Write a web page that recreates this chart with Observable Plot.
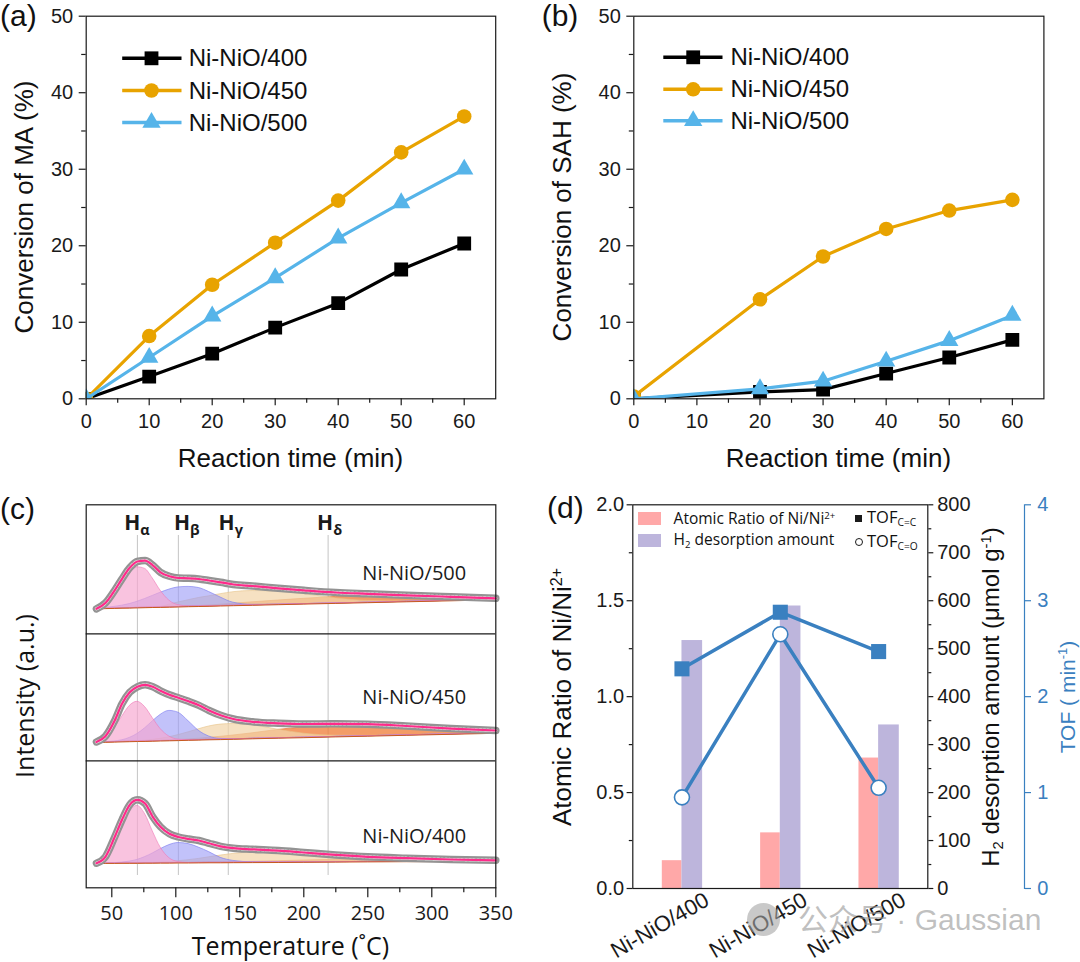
<!DOCTYPE html>
<html><head><meta charset="utf-8">
<script src="https://cdn.jsdelivr.net/npm/d3@7"></script>
<script src="https://cdn.jsdelivr.net/npm/@observablehq/plot@0.6"></script>
<style>
html,body{margin:0;padding:0;background:#fff}
#fig{position:relative;width:1080px;height:962px;overflow:hidden;background:#fff;font-family:"Liberation Sans",Arial,sans-serif;color:#111}
.t{position:absolute;white-space:nowrap;line-height:1}
.t sup,.t sub{font-size:0.62em;line-height:0}
.t sup{vertical-align:0.55em}
.t sub{vertical-align:-0.28em}
.rot{transform:translate(-50%,-50%) rotate(-90deg)}
.ctr{transform:translate(-50%,-50%)}
.mid{transform:translateY(-50%)}
</style></head><body><div id="fig"></div>
<script>
// ================= DATA =================
const samples = ["Ni-NiO/400", "Ni-NiO/450", "Ni-NiO/500"];

// (a) conversion of MA (%)
const timeA = [0, 10, 20, 30, 40, 50, 60];
const maNi400 = [0, 2.9, 5.9, 9.3, 12.5, 16.9, 20.3];
const maNi450 = [0, 8.2, 14.9, 20.4, 25.9, 32.2, 36.9];
const maNi500 = [0, 5.4, 10.8, 15.8, 21.0, 25.6, 30.0];

// (b) conversion of SAH (%)
const timeB = [0, 20, 30, 40, 50, 60];
const sahNi400 = [0, 0.9, 1.2, 3.3, 5.4, 7.7];
const sahNi450 = [0.3, 13.0, 18.6, 22.2, 24.6, 26.0];
const sahNi500 = [0, 1.3, 2.3, 4.9, 7.6, 10.9];

// axis ticks (a),(b)
const convXTicks = [0, 10, 20, 30, 40, 50, 60];
const convXMinor = [5, 15, 25, 35, 45, 55];
const convYTicks = [0, 10, 20, 30, 40, 50];
const convYMinor = [5, 15, 25, 35, 45];

// (c) H2-TPD traces (intensity a.u.) with Gaussian components
const tempsC = [38, 45, 52, 58, 64, 70, 76, 82, 88, 95, 102, 110, 118, 126, 135, 145, 160, 180, 200, 225, 250, 280, 315, 350];
const base500  = [25.0,25.2,25.4,25.6,25.7,25.9,26.1,26.3,26.4,26.6,26.8,27.1,27.3,27.5,27.8,28.1,28.5,29.1,29.7,30.4,31.1,32.0,33.0,34.0];
const alpha500 = [1.0,6.4,14.8,24.9,34.8,40.6,38.8,29.0,16.9,6.5,1.8,0.3,0,0,0,0,0,0,0,0,0,0,0,0];
const beta500  = [0,0.7,1.5,2.5,4.0,6.1,8.7,11.6,14.6,17.6,19.6,19.8,18.5,14.3,8.5,3.0,0.5,0,0,0,0,0,0,0];
const gamma500 = [0,0,0,0,0,0,0,0,0.3,2.5,4.5,6.5,8.5,10.0,11.8,13.5,14.3,13.0,10.0,5.0,1.8,0.3,0,0];
const delta500 = [0,0,0,0,0,0,0,0,0,0,0,0.3,0.5,0.8,1.3,2.0,3.0,4.2,5.3,6.5,7.2,6.5,4.5,2.3];
const env500   = [25.0,30.8,43.0,55.0,66.0,72.3,73.2,68.5,61.5,57.5,55.8,55.5,54.8,53.3,51.5,49.3,47.8,45.5,43.5,41.3,40.0,38.5,37.0,35.5];

const base450  = [18.3,18.5,18.7,18.9,19.1,19.3,19.4,19.6,19.8,20.0,20.2,20.5,20.7,21.0,21.2,21.5,22.0,22.6,23.1,23.9,24.6,25.5,26.5,27.5];
const alpha450 = [1.3,5.0,13.7,25.0,35.7,39.7,34.3,23.0,12.1,4.2,1.0,0.2,0,0,0,0,0,0,0,0,0,0,0,0];
const beta450  = [0,0.2,0.6,1.6,3.8,7.5,13.1,19.8,26.0,29.9,27.9,19.0,9.3,3.3,0.7,0.1,0,0,0,0,0,0,0,0];
const gamma450 = [0,0,0,0,0,0.3,0.7,1.3,2.2,3.5,5.5,8.0,10.8,13.3,15.0,15.3,13.5,8.5,4.0,1.2,0.3,0,0,0];
const delta450 = [0,0,0,0,0,0,0,0,0,0.3,0.5,0.9,1.4,2.0,2.8,3.8,5.5,8.3,10.3,11.2,11.0,8.5,5.5,2.8];
const env450   = [18.8,24.5,39.5,57.0,68.5,74.0,76.0,74.0,70.0,66.0,63.0,59.5,55.5,50.3,45.5,41.8,39.0,37.5,36.8,37.0,36.6,34.8,32.2,30.3];

const base400  = [24.3,24.4,24.4,24.5,24.5,24.5,24.6,24.6,24.7,24.7,24.8,24.8,24.9,25.0,25.0,25.1,25.2,25.3,25.5,25.7,25.9,26.1,26.3,26.5];
const alpha400 = [1.4,5.9,18.0,34.9,51.3,57.4,49.0,31.8,15.8,4.9,1.0,0.1,0,0,0,0,0,0,0,0,0,0,0,0];
const beta400  = [0,0.1,0.3,0.7,1.7,3.4,6.1,9.7,13.8,18.0,20.0,18.9,15.3,10.7,5.0,1.8,0.3,0,0,0,0,0,0,0];
const gamma400 = [0,0,0,0,0,0,0,0.2,0.5,1.0,1.8,2.8,4.0,5.5,7.2,8.8,10.0,9.2,6.8,3.5,1.3,0.3,0,0];
const delta400 = [0,0,0,0,0,0,0,0,0,0,0,0,0,0.2,0.3,0.5,0.8,1.3,1.8,2.3,2.6,2.5,2.0,1.3];
const env400   = [24.6,31.0,50.0,68.0,83.0,88.0,84.3,71.0,61.0,54.0,50.8,48.8,47.3,44.5,41.5,39.6,38.5,37.2,35.3,32.9,31.0,29.6,28.3,27.5];

const traceNamesC = ["Ni-NiO/500", "Ni-NiO/450", "Ni-NiO/400"];
const traceOffsetsC = [254, 127, 0];           // vertical offset of stacked traces (a.u.)
const peakTemps = [70, 102, 141, 219];          // H_alpha .. H_delta positions (°C)
const peakNames = ["α", "β", "γ", "δ"];
const tempTicks = [50, 100, 150, 200, 250, 300, 350];
const tempMinor = [75, 125, 175, 225, 275, 325];

// (d)
const catsD = ["Ni-NiO/400", "Ni-NiO/450", "Ni-NiO/500"];
const ratioNi = [0.145, 0.29, 0.68];       // Atomic ratio Ni/Ni2+
const h2Desorption = [517, 589, 341];      // umol g-1
const tofCC = [2.29, 2.88, 2.47];          // min-1
const tofCO = [0.95, 2.65, 1.05];          // min-1
const ratioTicks = [0, 0.5, 1.0, 1.5, 2.0];
const ratioMinor = [0.25, 0.75, 1.25, 1.75];
const h2Ticks = [0, 100, 200, 300, 400, 500, 600, 700, 800];
const h2Minor = [50, 150, 250, 350, 450, 550, 650, 750];
const tofTicks = [0, 1, 2, 3, 4];

// ================= STYLE =================
const seriesColor = ["#000000", "#E8A300", "#56B4E9"];
const seriesSymbol = ["square", "circle", "triangle"];
const seriesR = [7.8, 7.3, 6.8];
const BLUE = "#3a80c0";
const INK = "#1a1a1a";
const baseStyle = {fontFamily: "'Liberation Sans', Arial, sans-serif", fontSize: "20px", color: INK, background: "transparent", overflow: "visible", maxWidth: "none"};

const fig = document.getElementById("fig");
function mount(node, left, top, w, h) {
  const d = document.createElement("div");
  d.style.cssText = `position:absolute;left:${left}px;top:${top}px;width:${w}px;height:${h}px;`;
  d.appendChild(node); fig.appendChild(d); return node;
}
function label(html, x, y, css, cls) {
  const d = document.createElement("div");
  d.className = "t " + (cls || "");
  d.innerHTML = html;
  d.style.left = x + "px"; d.style.top = y + "px";
  Object.assign(d.style, css || {});
  fig.appendChild(d); return d;
}

// ================= (a) & (b) =================
function convPlot(times, series, mLeft, mRight) {
  const marks = [
    Plot.axisX({ticks: convXTicks, tickSize: 7, tickPadding: 8, label: null, fontSize: 20, strokeWidth: 1.2}),
    Plot.axisX({ticks: convXMinor, tickSize: 4.5, tickFormat: () => "", label: null, strokeWidth: 1.2}),
    Plot.axisY({ticks: convYTicks, tickSize: 7, tickPadding: 6, label: null, fontSize: 20, strokeWidth: 1.2}),
    Plot.axisY({ticks: convYMinor, tickSize: 4.5, tickFormat: () => "", label: null, strokeWidth: 1.2})
  ];
  series.forEach((vals, k) => {
    const rows = times.map((t, j) => ({t, v: vals[j]}));
    marks.push(Plot.line(rows, {x: "t", y: "v", stroke: seriesColor[k], strokeWidth: 3.2, clip: true}));
    marks.push(Plot.dot(rows, {x: "t", y: "v", symbol: seriesSymbol[k], r: seriesR[k], fill: seriesColor[k], stroke: "none", clip: true}));
  });
  marks.push(Plot.frame({stroke: INK, strokeWidth: 1.2}));
  return Plot.plot({
    width: 540, height: 480, marginLeft: mLeft, marginRight: mRight, marginTop: 15.7, marginBottom: 81.7,
    x: {domain: [0, 65]}, y: {domain: [0, 50]}, style: baseStyle, marks
  });
}
mount(convPlot(timeA, [maNi400, maNi450, maNi500], 85.7, 44.8), 0, 0, 540, 480);
mount(convPlot(timeB, [sahNi400, sahNi450, sahNi500], 93.3, 36.6), 540, 0, 540, 480);

// legends (a),(b)
const legSvg = d3.create("svg").attr("width", 1080).attr("height", 150)
  .style("position", "absolute").style("left", "0px").style("top", "0px").style("overflow", "visible");
const symTypes = [d3.symbolSquare, d3.symbolCircle, d3.symbolTriangle];
[[122.2, 181.5, 151.5, [58.3, 90.5, 122.5], 188.7], [663.3, 722.5, 693.2, [57.3, 89.3, 120.7], 730.4]]
  .forEach(([x1, x2, mx, ys, tx]) => {
    samples.forEach((s, k) => {
      legSvg.append("line").attr("x1", x1).attr("x2", x2).attr("y1", ys[k]).attr("y2", ys[k])
        .attr("stroke", seriesColor[k]).attr("stroke-width", 3.4);
      legSvg.append("path").attr("d", d3.symbol(symTypes[k], seriesR[k] * seriesR[k] * Math.PI)())
        .attr("transform", `translate(${mx},${ys[k]})`).attr("fill", seriesColor[k]);
      label(s, tx, ys[k], {fontSize: "24px"}, "mid");
    });
  });
fig.appendChild(legSvg.node());

label("Conversion of MA (%)", 24, 207, {fontSize: "26px"}, "rot");
label("Reaction time (min)", 290.5, 458, {fontSize: "26px"}, "ctr");
label("Conversion of SAH (%)", 562.4, 207, {fontSize: "26px"}, "rot");
label("Reaction time (min)", 838.4, 458, {fontSize: "26px"}, "ctr");
label("(a)", 0, 1, {fontSize: "30px"});
label("(b)", 541.7, 1, {fontSize: "30px"});

// ================= (c) =================
const compsBy = {
  "Ni-NiO/500": [base500, alpha500, beta500, gamma500, delta500, env500],
  "Ni-NiO/450": [base450, alpha450, beta450, gamma450, delta450, env450],
  "Ni-NiO/400": [base400, alpha400, beta400, gamma400, delta400, env400]
};
const rowsC = [];
traceNamesC.forEach((name, k) => {
  const [b, a, be, g, de, e] = compsBy[name];
  const off = traceOffsetsC[k];
  tempsC.forEach((T, j) => {
    const lo = off + b[j];
    rowsC.push({s: name, T, lo, a: lo + a[j], b: lo + be[j], g: lo + g[j], d: lo + de[j], e: off + e[j]});
  });
});
const compStyles = [
  {key: "d", fill: "#f0803c", op: 0.78, stroke: "#e0661e"},
  {key: "g", fill: "#f3d6aa", op: 0.72, stroke: "#e8c48c"},
  {key: "b", fill: "#9a9af6", op: 0.6, stroke: "#7c7cf0"},
  {key: "a", fill: "#f6a6d0", op: 0.68, stroke: "#f07ab8"}
];
const labelRise = [60, 63, 51];
const OS = "'Open Sans', sans-serif";
const marksC = [];
marksC.push(Plot.ruleX(peakTemps, {stroke: "#c4c4c4", strokeWidth: 1, insetTop: 30.7, insetBottom: 12.3}));
compStyles.forEach(c => {
  marksC.push(Plot.areaY(rowsC, {x: "T", y1: "lo", y2: c.key, z: "s", curve: "monotone-x",
    fill: c.fill, fillOpacity: c.op, stroke: c.stroke, strokeOpacity: 0.8, strokeWidth: 0.8}));
});
marksC.push(Plot.line(rowsC, {x: "T", y: "lo", z: "s", stroke: "#c85a1e", strokeWidth: 1}));
marksC.push(Plot.line(rowsC, {x: "T", y: "e", z: "s", curve: "monotone-x", stroke: "#939393", strokeWidth: 7.5, strokeLinecap: "round"}));
marksC.push(Plot.line(rowsC, {x: "T", y: "e", z: "s", curve: "monotone-x", stroke: "#e2e2e2", strokeWidth: 3.2, strokeDasharray: "2 2"}));
marksC.push(Plot.line(rowsC, {x: "T", y: "e", z: "s", curve: "monotone-x", stroke: "#ff2a8a", strokeWidth: 2.2}));
marksC.push(Plot.ruleY(traceOffsetsC.filter(o => o > 0), {stroke: INK, strokeWidth: 1.2}));
marksC.push(Plot.frame({stroke: INK, strokeWidth: 1.2}));
traceNamesC.forEach((name, k) => {
  marksC.push(Plot.text([{name, off: traceOffsetsC[k]}], {y: "off", text: "name", frameAnchor: "right", textAnchor: "end",
    dx: -29.6, dy: -labelRise[k], fontSize: 20, fontFamily: OS, fill: INK}));
});
marksC.push(Plot.axisX({ticks: tempTicks, tickSize: 10, tickPadding: 7.5, label: null, fontSize: 20, fontFamily: OS, strokeWidth: 1.2}));
marksC.push(Plot.axisX({ticks: tempMinor, tickSize: 5, tickFormat: () => "", label: null, strokeWidth: 1.2}));
const plotC = Plot.plot({
  width: 540, height: 492, marginLeft: 85.7, marginRight: 44.7, marginTop: 34.3, marginBottom: 74.7,
  x: {domain: [30, 350]}, y: {domain: [0, 383], axis: null}, style: baseStyle, marks: marksC
});
mount(plotC, 0, 470, 540, 492);
{
  const sx = plotC.scale("x");
  const svgC = d3.select(plotC);
  const labelDx = [0, 9, 3, 2];
  peakTemps.forEach((T, k) => {
    const t = svgC.append("text").attr("x", sx.apply(T) + labelDx[k]).attr("y", 34.3 + 25.5)
      .attr("text-anchor", "middle").attr("font-family", OS).attr("font-weight", "bold")
      .attr("font-size", 21).attr("fill", INK);
    t.append("tspan").text("H");
    t.append("tspan").attr("dy", 5).attr("font-size", 14.5).text(peakNames[k]);
  });
}
label("Temperature (˚C)", 290.5, 945, {fontSize: "25px", fontFamily: OS}, "ctr");
label("Intensity (a.u.)", 24, 696, {fontSize: "25px", fontFamily: OS}, "rot");
label("(c)", 0, 494, {fontSize: "30px"});

// ================= (d) =================
const rowsD = catsD.map((c, i) => ({c, i, ratio: ratioNi[i], h2: h2Desorption[i], cc: tofCC[i], co: tofCO[i]}));
const dGeom = {width: 540, height: 492, marginLeft: 92.3, marginRight: 152.7, marginTop: 34.3, marginBottom: 74};
const xD = {domain: [-0.5, 2.5], axis: null};
const BARW = 0.2;
const d1 = Plot.plot({...dGeom, x: xD, y: {domain: [0, 2]}, style: baseStyle, marks: [
  Plot.rectY(rowsD, {x1: d => d.i - BARW, x2: d => d.i, y: "ratio", fill: "#FFA8A8"}),
  Plot.axisY({ticks: ratioTicks, tickFormat: d3.format(".1f"), tickSize: 5.7, tickPadding: 3, label: null, fontSize: 20, strokeWidth: 1.2}),
  Plot.axisY({ticks: ratioMinor, tickSize: 3.5, tickFormat: () => "", label: null, strokeWidth: 1.2})
]});
const d2 = Plot.plot({...dGeom, x: xD, y: {domain: [0, 800]}, style: baseStyle, marks: [
  Plot.rectY(rowsD, {x1: d => d.i, x2: d => d.i + BARW + 0.01, y: "h2", fill: "#BDB5DC"}),
  Plot.axisY({anchor: "right", ticks: h2Ticks, tickSize: 5, tickPadding: 4.4, label: null, fontSize: 20, strokeWidth: 1.2}),
  Plot.axisY({anchor: "right", ticks: h2Minor, tickSize: 3, tickFormat: () => "", label: null, strokeWidth: 1.2}),
  Plot.frame({stroke: INK, strokeWidth: 1.2})
]});
const d3p = Plot.plot({...dGeom, x: xD, y: {domain: [0, 4]}, style: baseStyle, marks: [
  Plot.line(rowsD, {x: "i", y: "cc", stroke: BLUE, strokeWidth: 3.5}),
  Plot.line(rowsD, {x: "i", y: "co", stroke: BLUE, strokeWidth: 3.5}),
  Plot.dot(rowsD, {x: "i", y: "cc", symbol: "square", r: 8.5, fill: BLUE, stroke: "none"}),
  Plot.dot(rowsD, {x: "i", y: "co", r: 7.5, fill: "white", stroke: BLUE, strokeWidth: 1.6}),
  Plot.axisY({anchor: "right", dx: 96.7, ticks: tofTicks, tickFormat: d3.format("d"), tickSize: 6, tickPadding: 6.7, label: null, fontSize: 20, color: BLUE, strokeWidth: 1.2}),
  Plot.frame({anchor: "right", dx: 96.7, stroke: BLUE, strokeWidth: 1.2}),
  Plot.text(rowsD, {x: "i", text: "c", frameAnchor: "bottom", dx: -22, dy: 37, rotate: -30, fontSize: 22,
    textAnchor: "middle", lineAnchor: "middle", fill: INK})
]});
mount(d1, 540, 470, 540, 492);
mount(d2, 540, 470, 540, 492);
mount(d3p, 540, 470, 540, 492);

// legend (d)
const sw = (x, y, w, h, bg) => { const e = document.createElement("div"); e.style.cssText = `position:absolute;left:${x}px;top:${y}px;width:${w}px;height:${h}px;background:${bg}`; fig.appendChild(e); return e; };
sw(637.5, 512.3, 23.7, 12.7, "#FFA8A8");
sw(637.5, 534, 23.7, 12.7, "#BDB5DC");
label("Atomic Ratio of Ni/Ni<sup>2+</sup>", 673.6, 518.7, {fontSize: "15.5px", fontFamily: OS}, "mid");
label("H<sub>2</sub> desorption amount", 673.6, 540.3, {fontSize: "15.5px", fontFamily: OS}, "mid");
sw(855, 514.5, 7, 7, INK);
{ const c = sw(854.5, 537.7, 6, 6, "#fff"); c.style.border = "1px solid " + INK; c.style.borderRadius = "50%"; }
label("TOF<sub>C=C</sub>", 867, 517, {fontSize: "16.5px", fontFamily: OS}, "mid");
label("TOF<sub>C=O</sub>", 867, 540.5, {fontSize: "16.5px", fontFamily: OS}, "mid");

label("Atomic Ratio of Ni/Ni<sup>2+</sup>", 562.4, 697, {fontSize: "26px"}, "rot");
label("H<sub>2</sub> desorption amount (μmol g<sup>-1</sup>)", 991, 697, {fontSize: "24px"}, "rot");
label("TOF ( min<sup>-1</sup>)", 1066.9, 697, {fontSize: "21px", color: BLUE}, "rot");
label("(d)", 547, 493, {fontSize: "30px"});

// watermark
{ const ic = sw(747, 903, 33, 33, "rgba(165,165,165,0.6)"); ic.style.borderRadius = "50%"; }
label("公众号 · Gaussian", 798, 920, {fontSize: "30px", fontFamily: "'Liberation Sans','Noto Sans CJK SC',sans-serif", color: "rgba(150,150,150,0.6)"}, "mid");
</script></body></html>
